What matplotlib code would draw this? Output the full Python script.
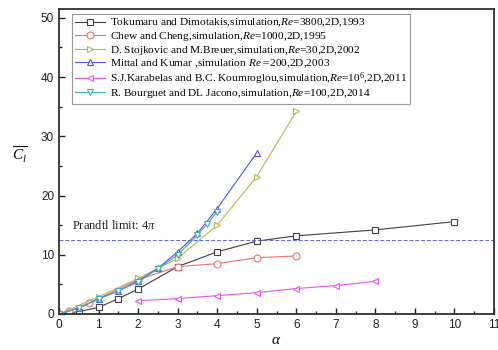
import matplotlib
matplotlib.use("Agg")
import matplotlib.pyplot as plt
from matplotlib.ticker import MultipleLocator
import numpy as np

# Data
tok_x = [0, 0.5, 1, 1.5, 2, 3, 4, 5, 6, 8, 10]
tok_y = [0, 0.4, 1.1, 2.6, 4.2, 8.0, 10.5, 12.3, 13.2, 14.2, 15.6]
chew_x = [0, 0.25, 0.75, 2, 3, 4, 5, 6]
chew_y = [0, 0.5, 1.8, 5.8, 8.0, 8.5, 9.5, 9.8]
stoj_x = [0, 1, 2, 3, 4, 5, 6]
stoj_y = [0, 2.9, 6.0, 9.4, 15.0, 23.2, 34.2]
mit_x = [0, 0.5, 1, 1.5, 2, 2.5, 3, 3.5, 4, 5]
mit_y = [0, 1.0, 2.6, 3.9, 5.6, 7.7, 10.5, 13.6, 17.8, 27.2]
kar_x = [2, 3, 4, 5, 6, 7, 8]
kar_y = [2.25, 2.6, 3.1, 3.6, 4.3, 4.8, 5.5]
bour_x = [0, 0.5, 1, 1.5, 2, 2.5, 3, 3.5, 3.75, 4]
bour_y = [0, 1.0, 2.5, 3.9, 5.4, 7.6, 10.0, 13.3, 15.2, 17.3]
prandtl = 4 * np.pi

labels = [
    r"Tokumaru and Dimotakis,simulation,$\it{Re}$=3800,2D,1993",
    r"Chew and Cheng,simulation,$\it{Re}$=1000,2D,1995",
    r"D. Stojkovic and M.Breuer,simulation,$\it{Re}$=30,2D,2002",
    r"Mittal and Kumar ,simulation $\it{Re}$ =200,2D,2003",
    r"S.J.Karabelas and B.C. Koumroglou,simulation,$\it{Re}$=10$^6$,2D,2011",
    r"R. Bourguet and DL Jacono,simulation,$\it{Re}$=100,2D,2014",
]

plt.rcParams['mathtext.fontset'] = 'custom'
plt.rcParams['mathtext.rm'] = 'Liberation Serif'
plt.rcParams['mathtext.it'] = 'Liberation Serif:italic'

fig = plt.figure(figsize=(4.98, 3.5), dpi=100)
ax = fig.add_axes([59/498, 1 - 314/350, (494-59)/498, (314-9)/350])

series = [
    (tok_x, tok_y, '#404040', 's'),
    (chew_x, chew_y, '#f07070', 'o'),
    (stoj_x, stoj_y, '#b8b850', '>'),
    (mit_x, mit_y, '#5050f0', '^'),
    (kar_x, kar_y, '#f050f0', '<'),
    (bour_x, bour_y, '#40b0b0', 'v'),
]
for (x, y, c, m), lab in zip(series, labels):
    ax.plot(x, y, color=c, marker=m, markersize=5, markerfacecolor='white',
            markeredgecolor=c, markeredgewidth=0.8, linewidth=0.8, label=lab)

ax.axhline(prandtl, color='#6060e0', linestyle=(0, (4, 2)), linewidth=0.7)
ax.text(0.32, 14.4, r"Prandtl limit: 4$\pi$", fontsize=9, family='Liberation Serif',
        color='#202020')

ax.set_xlim(0, 11)
ax.set_ylim(0, 51.5)
ax.xaxis.set_major_locator(MultipleLocator(1))
ax.xaxis.set_minor_locator(MultipleLocator(0.5))
ax.yaxis.set_major_locator(MultipleLocator(10))
ax.yaxis.set_minor_locator(MultipleLocator(5))
ax.tick_params(which='both', direction='in', top=False, right=False,
               labelsize=8.5, colors='#202020')
ax.tick_params(which='major', length=4, width=1)
ax.tick_params(which='minor', length=2.5, width=1)
for lab in ax.get_xticklabels() + ax.get_yticklabels():
    lab.set_family('Liberation Sans')
for s in ax.spines.values():
    s.set_linewidth(1.3)
    s.set_color('#303030')

ax.set_xlabel(r"$\alpha$", fontsize=11, labelpad=1)
ax.set_ylabel(r"$\overline{C_l}$", fontsize=11, rotation=0)
ax.yaxis.set_label_coords(-0.09, 0.49)

leg = ax.legend(loc='upper left', bbox_to_anchor=(0.03, 0.985),
                prop={'family': 'Liberation Serif', 'size': 8.2},
                frameon=True, fancybox=False, edgecolor='#808080', handlelength=2.6,
                borderpad=0.3, labelspacing=0.05, handletextpad=0.4, borderaxespad=0)
leg.get_frame().set_linewidth(0.8)

fig.savefig("out.png", dpi=100)
